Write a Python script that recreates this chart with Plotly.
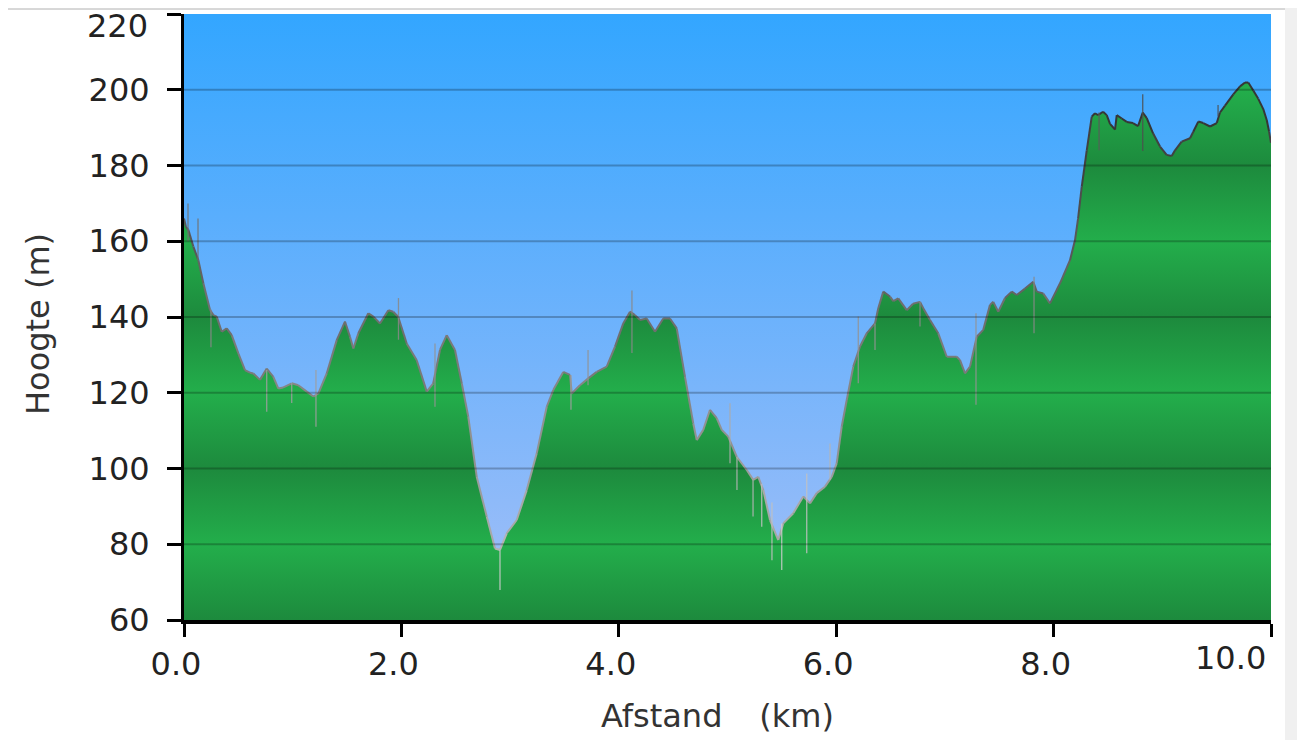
import plotly.graph_objects as go

# ---------------- data ----------------
dist_km = [0.000, 0.018, 0.040, 0.086, 0.132, 0.178, 0.239, 0.270, 0.301, 0.347, 0.393, 0.439,
           0.500, 0.561, 0.607, 0.638, 0.699, 0.761, 0.822, 0.868, 0.914, 0.991, 1.052, 1.129,
           1.190, 1.236, 1.313, 1.405, 1.481, 1.527, 1.558, 1.604, 1.696, 1.742, 1.803, 1.880,
           1.925, 1.971, 2.049, 2.141, 2.233, 2.293, 2.355, 2.417, 2.493, 2.555, 2.615, 2.693,
           2.785, 2.861, 2.907, 2.969, 3.061, 3.153, 3.245, 3.337, 3.397, 3.489, 3.551, 3.567,
           3.643, 3.719, 3.797, 3.889, 3.965, 4.041, 4.103, 4.149, 4.195, 4.257, 4.333, 4.409,
           4.471, 4.533, 4.609, 4.685, 4.717, 4.777, 4.839, 4.901, 4.947, 5.007, 5.085, 5.177,
           5.237, 5.283, 5.329, 5.391, 5.467, 5.513, 5.605, 5.697, 5.759, 5.821, 5.897, 5.959,
           6.005, 6.051, 6.097, 6.157, 6.219, 6.281, 6.357, 6.387, 6.433, 6.495, 6.525, 6.571,
           6.649, 6.707, 6.771, 6.801, 6.863, 6.939, 7.017, 7.109, 7.139, 7.185, 7.231, 7.293,
           7.353, 7.415, 7.445, 7.491, 7.553, 7.615, 7.661, 7.737, 7.813, 7.845, 7.905, 7.967,
           8.059, 8.151, 8.197, 8.225, 8.259, 8.305, 8.351, 8.381, 8.409, 8.455, 8.489, 8.519,
           8.565, 8.581, 8.627, 8.673, 8.730, 8.777, 8.820, 8.857, 8.915, 8.979, 9.040, 9.086,
           9.117, 9.178, 9.255, 9.285, 9.331, 9.377, 9.439, 9.501, 9.531, 9.577, 9.653, 9.715,
           9.761, 9.791, 9.837, 9.883, 9.929, 9.961, 9.982, 10.000]

elev_m = [166.0, 163.8, 163.0, 158.6, 155.0, 148.9, 141.9, 140.5, 140.1, 136.1, 137.0, 135.2,
          130.4, 126.0, 125.3, 125.1, 123.4, 126.4, 124.2, 121.1, 121.4, 122.5, 122.0, 120.3,
          119.0, 119.8, 125.1, 133.9, 138.8, 134.8, 131.7, 135.7, 141.0, 140.1, 138.3, 141.8,
          141.4, 140.0, 133.0, 128.6, 120.3, 122.5, 131.3, 135.2, 131.3, 122.5, 113.7, 97.8,
          87.3, 78.9, 78.5, 82.9, 86.4, 94.3, 104.0, 116.3, 120.7, 125.5, 124.7, 119.8,
          122.0, 123.8, 125.5, 126.9, 132.2, 138.3, 141.4, 140.5, 139.2, 139.6, 136.1, 139.6,
          139.6, 137.0, 124.2, 111.9, 107.5, 110.2, 115.5, 113.3, 110.2, 108.4, 103.1, 99.6,
          97.0, 97.8, 94.3, 86.4, 81.1, 85.5, 88.2, 92.6, 90.8, 93.5, 95.2, 97.8,
          101.4, 111.1, 118.1, 126.9, 132.2, 135.7, 138.3, 142.3, 146.7, 145.4, 144.2, 144.9,
          141.8, 143.5, 144.0, 142.3, 139.2, 135.7, 129.5, 129.5, 128.6, 125.1, 126.9, 134.8,
          136.6, 143.2, 144.0, 141.4, 145.0, 146.7, 145.8, 147.5, 149.3, 146.7, 146.2, 143.6,
          148.9, 155.0, 160.3, 166.0, 174.4, 184.0, 192.9, 193.8, 193.3, 194.2, 193.3, 191.0,
          189.5, 193.3, 192.4, 191.5, 191.2, 190.4, 194.0, 192.5, 188.5, 185.0, 182.8, 182.5,
          184.0, 186.3, 187.2, 188.9, 191.6, 191.2, 190.3, 191.2, 194.0, 195.8, 198.8, 200.9,
          201.9, 201.9, 199.8, 197.6, 194.9, 192.0, 189.0, 186.0]

# measurement spikes (raw GPS noise): position, lowest and highest value
spike_km = [0.037, 0.129, 0.248, 0.761, 0.991, 1.214, 1.973, 2.309, 2.907, 3.560, 3.717, 4.121,
            5.023, 5.087, 5.235, 5.315, 5.409, 5.499, 5.729, 5.943, 6.203, 6.357, 6.771, 7.286,
            7.820, 8.418, 8.820, 9.513]
spike_lo = [160.0, 155.0, 132.0, 115.0, 117.3, 111.0, 134.0, 116.3, 67.9, 115.5, 122.0, 130.5,
            101.4, 94.3, 87.3, 84.6, 75.8, 73.2, 77.6, 97.0, 122.5, 131.3, 137.5, 116.8,
            135.7, 184.0, 183.8, 193.0]
spike_hi = [170.0, 166.0, 142.0, 126.0, 122.5, 126.0, 145.0, 133.0, 78.5, 124.7, 131.3, 147.0,
            117.2, 103.0, 97.0, 96.0, 91.0, 85.5, 98.7, 106.6, 140.1, 138.3, 144.0, 141.0,
            150.6, 194.0, 198.8, 196.0]

x_ticks = [0, 2, 4, 6, 8, 10]
x_tick_labels = ["0.0", "2.0", "4.0", "6.0", "8.0", "10.0"]
y_ticks = [60, 80, 100, 120, 140, 160, 180, 200, 220]
y_tick_labels = [str(v) for v in y_ticks]

x_title = "Afstand\u00a0\u00a0\u2009 (km)"
y_title = "Hoogte (m)"

# ---------------- layout constants (page pixels) ----------------
OFF = 8                      # default body margin of the html page
PAGE_W, PAGE_H = 1305, 740
W, H = PAGE_W - OFF, PAGE_H - OFF
PL, PR, PT, PB = 184, 1271, 14, 620     # plot area in page pixels
FONT = "Verdana, DejaVu Sans, sans-serif"
FS = 32
TICK_COLOR = "#222222"
TITLE_COLOR = "#333333"


def px_x(p):
    return (p - PL) / (PR - PL)


def px_y(p):
    return (PB - p) / (PB - PT)


ymin, ymax = y_ticks[0], y_ticks[-1]

fig = go.Figure()

# sky background (vertical gradient)
fig.add_trace(go.Scatter(
    x=[x_ticks[0], x_ticks[-1]], y=[ymax, ymax], mode="lines", line=dict(width=0),
    fill="tozeroy",
    fillgradient=dict(type="vertical", start=ymin, stop=ymax,
                      colorscale=[[0, "#a4bff7"], [0.5, "#6cb2fc"], [1, "#33a6ff"]]),
    hoverinfo="skip", showlegend=False))

# terrain fill with banded green gradient
n_bands = len(y_ticks) - 1
green_scale = []
for k in range(n_bands + 1):
    green_scale.append([k / n_bands, "#1d8a3d" if k % 2 == 0 else "#23ae4b"])
fig.add_trace(go.Scatter(
    x=dist_km, y=elev_m, mode="lines", line=dict(width=0),
    fill="tozeroy",
    fillgradient=dict(type="vertical", start=ymin, stop=ymax, colorscale=green_scale),
    hoverinfo="skip", showlegend=False))


def gray_level(e):
    t = (e - 70.0) / (200.0 - 70.0)
    t = max(0.0, min(1.0, t))
    return int(round(185 - t * (185 - 48)))


# outline, shaded by elevation (binned into a few traces)
n_bins = 12
bins = {}
for i in range(len(dist_km) - 1):
    e = 0.5 * (elev_m[i] + elev_m[i + 1])
    b = min(n_bins - 1, max(0, int((e - 70) / 130 * n_bins)))
    bins.setdefault(b, ([], []))
    bins[b][0].extend([dist_km[i], dist_km[i + 1], None])
    bins[b][1].extend([elev_m[i], elev_m[i + 1], None])
for b, (xs, ys) in sorted(bins.items()):
    g = gray_level(70 + (b + 0.5) * 130 / n_bins)
    fig.add_trace(go.Scatter(x=xs, y=ys, mode="lines",
                             line=dict(color=f"rgb({g},{g},{g})", width=2),
                             hoverinfo="skip", showlegend=False))

# spikes
sbins = {}
for xk, lo, hi in zip(spike_km, spike_lo, spike_hi):
    e = 0.5 * (lo + hi)
    b = min(n_bins - 1, max(0, int((e - 70) / 130 * n_bins)))
    sbins.setdefault(b, ([], []))
    sbins[b][0].extend([xk, xk, None])
    sbins[b][1].extend([lo, hi, None])
for b, (xs, ys) in sorted(sbins.items()):
    g = min(210, gray_level(70 + (b + 0.5) * 130 / n_bins) + 25)
    fig.add_trace(go.Scatter(x=xs, y=ys, mode="lines",
                             line=dict(color=f"rgba({g},{g},{g},0.85)", width=1.3),
                             hoverinfo="skip", showlegend=False))

shapes = []
# horizontal grid lines drawn over the terrain
for yv in y_ticks[1:-1]:
    shapes.append(dict(type="line", xref="paper", x0=0, x1=1, yref="y", y0=yv, y1=yv,
                       line=dict(color="rgba(0,0,0,0.24)", width=2), layer="above"))
# grey strip at the right edge of the page
shapes.append(dict(type="rect", xref="paper", yref="paper",
                   x0=px_x(1285), x1=px_x(PAGE_W + 5), y0=px_y(PAGE_H + 5), y1=px_y(-5),
                   fillcolor="#f0f0f0", line=dict(width=0), layer="below"))
# top frame line
shapes.append(dict(type="line", xref="paper", yref="paper",
                   x0=px_x(0), x1=px_x(1285), y0=px_y(OFF + 1), y1=px_y(OFF + 1),
                   line=dict(color="#b0b0b0", width=1)))

# edge tick labels (the chart nudges them inside the page) and axis titles
tick_font = dict(family=FONT, size=FS, color=TICK_COLOR)
title_font = dict(family=FONT, size=FS, color=TITLE_COLOR)
annotations = [
    dict(text=y_tick_labels[-1], xref="paper", x=0, yref="y", y=y_ticks[-1],
         xanchor="right", yanchor="middle", xshift=-(PL - 150), yshift=-12,
         showarrow=False, font=tick_font),
    dict(text=x_tick_labels[-1], xref="x", x=x_ticks[-1], yref="paper", y=0,
         xanchor="right", yanchor="middle", xshift=-3, yshift=-(658 - PB),
         showarrow=False, font=tick_font),
    dict(text=x_title, xref="paper", x=px_x(717), yref="paper", y=px_y(716),
         xanchor="center", yanchor="middle", showarrow=False, font=title_font),
    dict(text=y_title, xref="paper", x=px_x(38), yref="paper", y=px_y(324),
         xanchor="center", yanchor="middle", textangle=-90, showarrow=False,
         font=title_font),
]

fig.update_layout(
    width=W, height=H,
    margin=dict(l=PL - OFF, r=PAGE_W - PR, t=PT - OFF, b=PAGE_H - PB, pad=0, autoexpand=False),
    paper_bgcolor="white", plot_bgcolor="white",
    font=dict(family=FONT, size=FS, color=TICK_COLOR),
    shapes=shapes,
    annotations=annotations,
    showlegend=False,
    hovermode=False,
)
fig.update_xaxes(
    range=[x_ticks[0], x_ticks[-1]], tickvals=x_ticks,
    ticktext=x_tick_labels[:-1] + [""],
    ticks="outside", ticklen=13, tickwidth=3, tickcolor="black",
    showline=True, linewidth=4, linecolor="black", showgrid=False, zeroline=False,
    tickfont=tick_font, ticklabelshift=-8, automargin=False,
    layer="above traces", fixedrange=True,
)
fig.update_yaxes(
    range=[ymin, ymax], tickvals=y_ticks,
    ticktext=y_tick_labels[:-1] + [""],
    ticks="outside", ticklen=14, tickwidth=3, tickcolor="black",
    showline=True, linewidth=3, linecolor="black", showgrid=False, zeroline=False,
    tickfont=tick_font, ticklabelstandoff=11, automargin=False,
    layer="above traces", fixedrange=True,
)

fig.write_html("out.html")
